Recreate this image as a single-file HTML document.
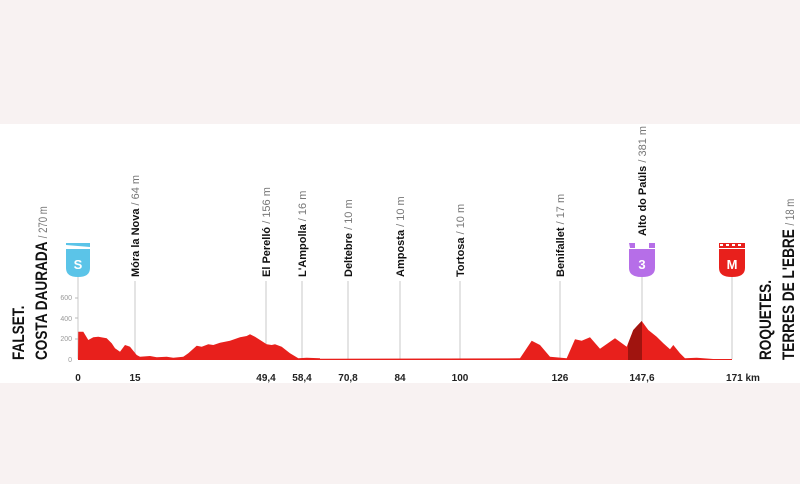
<!DOCTYPE html><html><head><style>html,body{margin:0;padding:0;background:#fff}svg{display:block}</style></head><body>
<svg width="800" height="484" xmlns="http://www.w3.org/2000/svg" font-family="Liberation Sans, sans-serif">
<rect x="0" y="0" width="800" height="124" fill="#f8f2f2"/>
<rect x="0" y="383" width="800" height="101" fill="#f8f2f2"/>
<g stroke="#c8c8c8" stroke-width="1">
<line x1="135" y1="281" x2="135" y2="359"/><line x1="266" y1="281" x2="266" y2="359"/>
<line x1="302" y1="281" x2="302" y2="359"/><line x1="348" y1="281" x2="348" y2="359"/>
<line x1="400" y1="281" x2="400" y2="359"/><line x1="460" y1="281" x2="460" y2="359"/>
<line x1="560" y1="281" x2="560" y2="359"/><line x1="642" y1="277" x2="642" y2="359"/>
<line x1="732" y1="277" x2="732" y2="359"/><line x1="78" y1="277" x2="78" y2="359"/>
</g>
<g fill="#999" font-size="7" text-anchor="end">
<text x="72" y="300">600</text><text x="72" y="321">400</text><text x="72" y="341">200</text><text x="72" y="362">0</text>
</g>
<g stroke="#bbb"><line x1="75" y1="298" x2="78" y2="298"/><line x1="75" y1="318" x2="78" y2="318"/><line x1="75" y1="339" x2="78" y2="339"/></g>
<polygon fill="#e8201c" points="78,359 78.3,331.7 83.3,331.7 88.3,340 93.3,337.3 98.3,336.7 106.7,338.3 111.7,343.3 115,348.3 120,351.7 125,345 130,346.7 136.7,355 140,356.7 150,356 156.7,357.3 166.7,356.7 173.3,357.7 183.3,356.7 188.3,353.3 196.7,345.7 201.7,346.7 208.3,344.3 213.3,345 220,342.7 230,340.7 240,337.3 246.7,336 250,334.3 255,336.7 266.7,344.3 271.7,345 275,344.3 281.7,346.7 290,353.3 298.3,358.3 306.7,357.7 320,358.3 320,358.7 520,358.3 531.7,340.7 540,345 550,356.7 566.7,358.3 575,339.3 581.7,340.7 590,337.3 600,348.7 615,338.3 626.7,346.7 633.3,330 641.7,321 648.3,330 656.7,336.7 663.3,343.3 670,349.3 673.3,345 680,353.3 685,358.3 696.7,357.7 713.3,359 732,359 732,360 78,360"/>
<polygon fill="#a0140f" points="628,344 633.3,330 641.7,321 642,321 642,360 628,360"/>
<!-- shields -->
<path d="M66,243 L90,243 L90,247 L66,245Z" fill="#5bc4e8"/>
<path d="M66,249 L90,249 L90,268 Q90,277 78,277 Q66,277 66,268Z" fill="#5bc4e8"/>
<text x="78" y="269" font-size="13" font-weight="bold" fill="#fff" text-anchor="middle">S</text>
<path d="M629,243 L635,243 L635,248 L630,248Z M649,243 L655,243 L655,248 L649,248Z" fill="#b66ee8"/>
<path d="M629,249 L655,249 L655,268 Q655,277 642,277 Q629,277 629,268Z" fill="#b66ee8"/>
<text x="642" y="269" font-size="13" font-weight="bold" fill="#fff" text-anchor="middle">3</text>
<rect x="719" y="243" width="26" height="5" fill="#e8201c"/>
<path d="M720,244h3v2h-3zM726,244h3v2h-3zM732,244h3v2h-3zM738,244h3v2h-3z" fill="#fff"/>
<path d="M719,249 L745,249 L745,268 Q745,277 732,277 Q719,277 719,268Z" fill="#e8201c"/>
<text x="732" y="269" font-size="13" font-weight="bold" fill="#fff" text-anchor="middle">M</text>
<!-- rotated labels -->
<g font-size="11" font-weight="bold" fill="#111">
<text transform="translate(139,277) rotate(-90)">Móra la Nova <tspan font-weight="normal" fill="#777">/ 64 m</tspan></text>
<text transform="translate(270,277) rotate(-90)">El Perelló <tspan font-weight="normal" fill="#777">/ 156 m</tspan></text>
<text transform="translate(306,277) rotate(-90)">L'Ampolla <tspan font-weight="normal" fill="#777">/ 16 m</tspan></text>
<text transform="translate(352,277) rotate(-90)">Deltebre <tspan font-weight="normal" fill="#777">/ 10 m</tspan></text>
<text transform="translate(404,277) rotate(-90)">Amposta <tspan font-weight="normal" fill="#777">/ 10 m</tspan></text>
<text transform="translate(464,277) rotate(-90)">Tortosa <tspan font-weight="normal" fill="#777">/ 10 m</tspan></text>
<text transform="translate(564,277) rotate(-90)">Benifallet <tspan font-weight="normal" fill="#777">/ 17 m</tspan></text>
<text transform="translate(646,236) rotate(-90)">Alto do Paüls <tspan font-weight="normal" fill="#777">/ 381 m</tspan></text>
</g>
<g font-size="17" font-weight="bold" fill="#111">
<text transform="translate(24,360) rotate(-90) scale(0.8,1)">FALSET.</text>
<text transform="translate(47,360) rotate(-90) scale(0.8,1)">COSTA DAURADA <tspan font-weight="normal" font-size="12" fill="#777">/ 270 m</tspan></text>
<text transform="translate(771,360) rotate(-90) scale(0.8,1)">ROQUETES.</text>
<text transform="translate(794,360) rotate(-90) scale(0.8,1)">TERRES DE L'EBRE <tspan font-weight="normal" font-size="12" fill="#777">/ 18 m</tspan></text>
</g>
<g font-size="10" font-weight="bold" fill="#222" text-anchor="middle">
<text x="78" y="381">0</text><text x="135" y="381">15</text><text x="266" y="381">49,4</text><text x="302" y="381">58,4</text>
<text x="348" y="381">70,8</text><text x="400" y="381">84</text><text x="460" y="381">100</text><text x="560" y="381">126</text>
<text x="642" y="381">147,6</text><text x="743" y="381">171 km</text>
</g>
</svg>
</body></html>
